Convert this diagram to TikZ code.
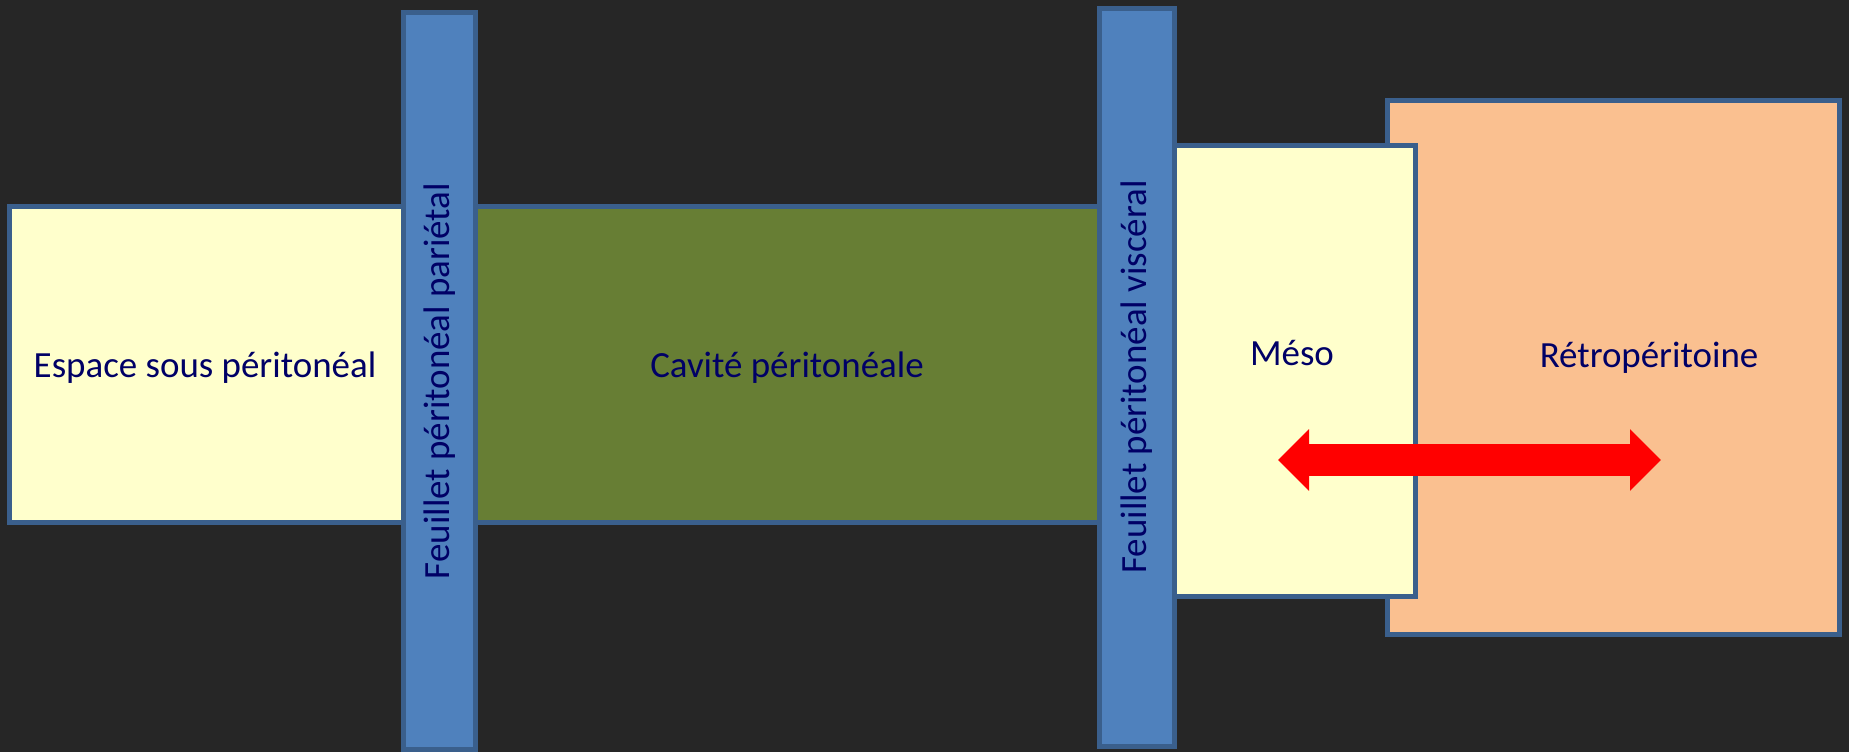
\documentclass[tikz,border=0pt]{standalone}
\usepackage{fontspec}
\setmainfont{Carlito}
\usetikzlibrary{arrows.meta,positioning}
\definecolor{fond}{HTML}{262626}
\definecolor{bleu}{HTML}{4F81BD}
\definecolor{bordbleu}{HTML}{3A5F8C}
\definecolor{jaune}{HTML}{FFFFCC}
\definecolor{olive}{HTML}{677E34}
\definecolor{peche}{HTML}{FAC090}
\definecolor{marine}{HTML}{000066}
\tikzset{
  zone/.style={draw=bordbleu, line width=0.05cm},
  texte/.style={text=marine, font=\fontsize{10.5pt}{12pt}\selectfont, inner sep=0pt},
}

\begin{document}
\begin{tikzpicture}[x=0.01cm, y=-0.01cm]
    % 背景
    \fill[fond] (0,0) rectangle (1849,752);
    \useasboundingbox (0,0) rectangle (1849,752);

    % 腹膜后间隙和系膜
    \draw[zone, fill=peche] (1387.5,100.5) rectangle (1839.5,634.5);
    \draw[zone, fill=jaune] (1170,145.5) rectangle (1415.5,596.5);

    % 腹膜下间隙和腹膜腔
    \draw[zone, fill=jaune] (9.5,206.5) rectangle (430,522.5);
    \draw[zone, fill=olive] (450,206.5) rectangle (1130,522.5);

    % 两层腹膜
    \draw[zone, fill=bleu] (403.5,12.5) rectangle (475.5,749.5);
    \draw[zone, fill=bleu] (1099.5,8.5) rectangle (1174.5,746.5);

    % 红色双向箭头
    \coordinate (gauche) at (1278,460);
    \coordinate (droite) at (1661,460);
    \draw[red, line width=0.32cm, {Triangle[length=0.31cm,width=0.6cm]}-{Triangle[length=0.31cm,width=0.6cm]}] (gauche) -- (droite);

    % 标签
    \node[texte, anchor=base] (espace) at (205,378) {Espace sous péritonéal};
    \node[texte, anchor=base] (cavite) at (787,378) {Cavité péritonéale};
    \node[texte, anchor=base] (meso) at (1292,366) {Méso};
    \node[texte, anchor=base] (retro) at (1649,367) {Rétropéritoine};
    \node[texte, rotate=90] (parietal) at (439.5,381) {Feuillet péritonéal pariétal};
    \node[texte, rotate=90] (visceral) at (1137,377) {Feuillet péritonéal viscéral};
\end{tikzpicture}
\end{document}
